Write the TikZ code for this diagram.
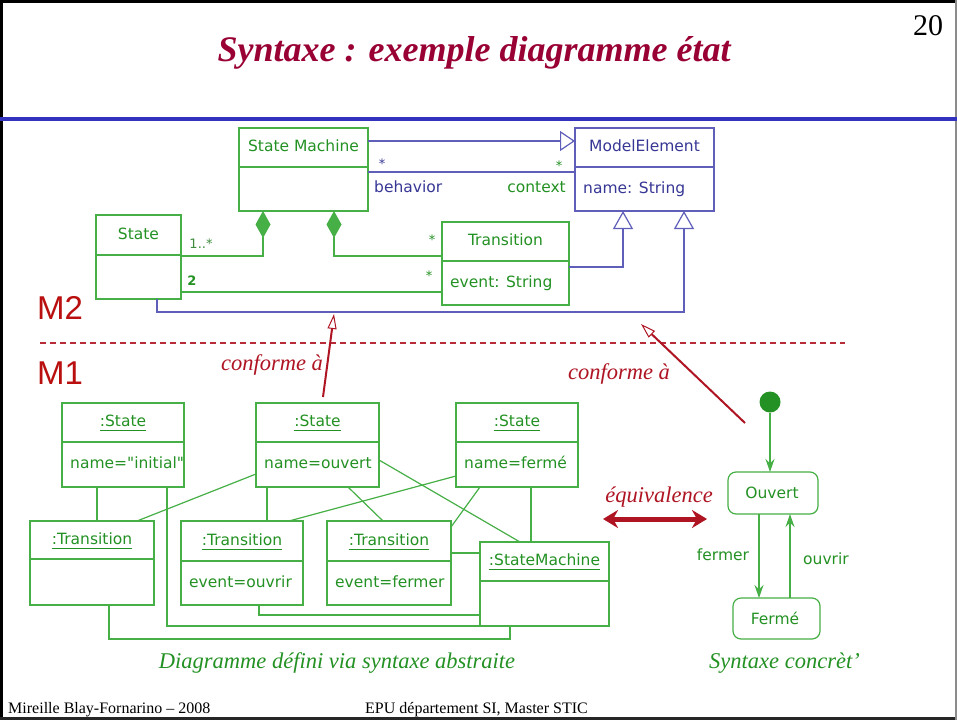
\documentclass[tikz,border=0pt]{standalone}
\usepackage{fontspec}
\setmainfont{Liberation Serif}
\newfontfamily\umlf{DejaVu Sans}
\newfontfamily\msans{Liberation Sans}
\usetikzlibrary{arrows.meta}
\definecolor{ugreen}{RGB}{70,175,70}
\definecolor{ugreentxt}{RGB}{35,145,35}
\definecolor{ublue}{RGB}{95,95,185}
\definecolor{ubluetxt}{RGB}{55,55,150}
\definecolor{mred}{RGB}{185,15,15}
\definecolor{cred}{RGB}{175,20,35}
\definecolor{titlec}{RGB}{153,0,51}
\definecolor{sepblue}{RGB}{50,50,190}
\newcommand\ulx[1]{\setbox0\hbox{#1}\rlap{\rule[-4.5pt]{\wd0}{1.1pt}}\box0}
\tikzset{
  umltext/.style={font=\umlf\fontsize{15.5}{18}\selectfont, inner sep=0pt, text height=11.5pt, text depth=3pt},
  smalltext/.style={font=\umlf\fontsize{13}{15}\selectfont, inner sep=0pt},
  gl/.style={draw=ugreen, line width=1.2pt},
  bl/.style={draw=ublue, line width=1.2pt},
  redit/.style={font=\itshape\fontsize{22.5}{26}\selectfont, text=cred, inner sep=0pt},
  greenit/.style={font=\itshape\fontsize{22.5}{26}\selectfont, text=ugreentxt, inner sep=0pt},
  mlabel/.style={font=\msans\fontsize{33}{36}\selectfont, text=mred, inner sep=0pt, anchor=north west},
  conf/.style={draw=cred, line width=2pt, -{Triangle[open, length=15pt, width=9pt, line width=1pt]}},
  stbox/.style={draw=ugreen, line width=1.2pt, rounded corners=8pt, inner sep=0pt, outer sep=0pt, anchor=north west},
  garrow/.style={gl, -{Stealth[length=13pt, width=9pt]}}
}
% name, x1, y1, x2, ydiv, y2, colour, header, body
\newcommand\umlbox[9]{%
  \node[draw=#7, line width=1.2pt, inner sep=0pt, outer sep=0pt, anchor=north west,
    minimum width={(#4-#2)*1pt}, minimum height={(#6-#3)*1pt}] (#1) at (#2,#3) {};
  \draw[draw=#7, line width=1.2pt] (#2,#5) -- (#4,#5);
  \node[umltext, text=#7txt] (#1-h) at ({(#2+#4)/2},{(#3+#5)/2}) {#8};
  \node[umltext, text=#7txt, anchor=west] (#1-b) at ({#2+8},{(#5+#6)/2}) {#9};
}
\begin{document}
\begin{tikzpicture}[x=1pt, y=-1pt]
\useasboundingbox (0,0) rectangle (957,720);
% frame
\fill[white] (0,0) rectangle (957,720);
\draw[line width=3pt] (0,1.5) -- (957,1.5);
\draw[line width=3pt] (1.5,0) -- (1.5,720);
\draw[line width=3pt, black!85] (0,718.5) -- (957,718.5);
\draw[line width=1.5pt, black!45] (956,0) -- (956,720);
% title
\node[font=\bfseries\itshape\fontsize{36}{40}\selectfont, text=titlec, inner sep=0pt] (title) at (474,53) {Syntaxe : exemple diagramme état};
\node[font=\fontsize{30}{32}\selectfont, inner sep=0pt] (pnum) at (928,26) {20};
\draw[sepblue, line width=4pt] (0,119) -- (957,119);

% ===== M2 =====
\umlbox{sm}{239}{128}{368}{167}{211}{ugreen}{State Machine}{}
\umlbox{st}{96}{215}{181}{255}{299}{ugreen}{State}{}
\umlbox{tr}{442}{222}{569}{261}{305}{ugreen}{Transition}{event: String}
\umlbox{me}{575}{128}{714}{167}{211}{ublue}{ModelElement}{name: String}

\draw[gl, {Diamond[length=27pt, width=15pt]}-] (sm.south -| 263,0) |- (st.east |- 0,256);
\draw[gl, {Diamond[length=27pt, width=15pt]}-] (sm.south -| 334,0) |- (tr.west |- 0,256);
\draw[gl] (st.east |- 0,292) -- (tr.west |- 0,292);

\draw[bl, -{Triangle[open, length=15pt, width=20pt]}] (sm.east |- 0,141) -- (me.west |- 0,141);
\draw[bl] (sm.east |- 0,172) -- (me.west |- 0,172);
\draw[bl, -{Triangle[open, length=18pt, width=20pt]}] (tr.east |- 0,267) -| (me.south -| 623,0);
\draw[bl, -{Triangle[open, length=18pt, width=20pt]}] (st.south -| 157,0) -- (157,312) -| (me.south -| 684,0);

\node[smalltext, text=ugreentxt!70!gray] (m1) at (201,244) {1..*};
\node[smalltext, text=ugreentxt, font=\umlf\bfseries\fontsize{13}{15}\selectfont] (m2) at (192,281) {2};
\node[smalltext, text=ubluetxt] (mb) at (382,164) {*};
\node[smalltext, text=ugreentxt] (mc) at (559,166) {*};
\node[smalltext, text=ugreentxt] (mt1) at (432,240) {*};
\node[smalltext, text=ugreentxt] (mt2) at (429,276) {*};
\node[umltext, text=ubluetxt, anchor=west] (beh) at (374,188) {behavior};
\node[umltext, text=ugreentxt, anchor=east] (ctx) at (566,188) {context};

% M labels and separator
\node[mlabel] (M2) at (37,296) {M2};
\node[mlabel] (M1) at (37,362) {M1};
\draw[draw=cred!90!white, line width=1.6pt, dash pattern=on 6pt off 4pt] (40,343) -- (845,343);

% ===== M1 =====
\umlbox{s1}{62}{403}{184}{442}{487}{ugreen}{\ulx{:State}}{name="initial"}
\umlbox{s2}{256}{403}{379}{442}{487}{ugreen}{\ulx{:State}}{name=ouvert}
\umlbox{s3}{456}{403}{578}{442}{487}{ugreen}{\ulx{:State}}{name=fermé}
\umlbox{t1}{30}{521}{154}{559}{605}{ugreen}{\ulx{:Transition}}{}
\umlbox{t2}{181}{521}{303}{561}{605}{ugreen}{\ulx{:Transition}}{event=ouvrir}
\umlbox{t3}{327}{521}{451}{561}{605}{ugreen}{\ulx{:Transition}}{event=fermer}
\umlbox{smi}{480}{542}{609}{581}{626}{ugreen}{\ulx{:StateMachine}}{}

\draw[gl] (s1.south -| 97,0) -- (t1.north -| 97,0);
\draw[gl] (s1.south -| 167,0) |- (smi.south west);
\draw[gl] (t1.south -| 109,0) -- (109,639) -| (smi.south -| 510,0);
\draw[gl] (t2.south -| 259,0) |- (smi.west |- 0,615);
\draw[gl] (t3.east |- 0,553) -- (smi.west |- 0,553);
\draw[gl] (s2.west |- 0,474) -- (t1.north -| 137,0);
\draw[gl] (s2.south -| 267,0) -- (t2.north -| 267,0);
\draw[gl] (s2.south -| 348,0) -- (t3.north -| 383,0);
\draw[gl] (s2.east |- 0,460) -- (smi.north -| 520,0);
\draw[gl] (s3.west |- 0,476) -- (t2.north -| 289,0);
\draw[gl] (s3.south -| 480,0) -- (t3.east |- 0,527);
\draw[gl] (s3.south -| 531,0) -- (smi.north -| 531,0);

% conforme a
\node[redit] (c1) at (272,365) {conforme à};
\coordinate (c1s) at (323,397);
\draw[conf] (c1s) -- (334,314);
\node[redit] (c2) at (619,374) {conforme à};
\coordinate (c2s) at (745,423);
\draw[conf] (c2s) -- (641,324);

% concrete syntax
\fill[ugreentxt] (770,402) circle (10.5pt);
\coordinate (init) at (770,412.5);
\node[stbox, minimum width=90pt, minimum height=42pt] (ouv) at (728,472) {};
\node[umltext, text=ugreentxt] (ouvt) at (772,494) {Ouvert};
\node[stbox, minimum width=87pt, minimum height=41pt] (fer) at (733,598) {};
\node[umltext, text=ugreentxt] (fert) at (775,620) {Fermé};
\draw[garrow] (init) -- (ouv.north -| 770,0);
\draw[garrow] (ouv.south -| 759,0) -- (fer.north -| 759,0);
\draw[garrow] (fer.north -| 790,0) -- (ouv.south -| 790,0);
\node[umltext, text=ugreentxt] (lf) at (723,556) {fermer};
\node[umltext, text=ugreentxt] (lo) at (826,560) {ouvrir};

% equivalence
\node[redit] (eq) at (659,497) {équivalence};
\coordinate (eqa) at (603,519);
\coordinate (eqb) at (707,519);
\draw[draw=cred, line width=5pt, {Stealth[length=15pt, width=18pt]}-{Stealth[length=15pt, width=18pt]}] (eqa) -- (eqb);

% captions
\node[greenit] (cap1) at (337,663) {Diagramme défini via syntaxe abstraite};
\node[greenit, anchor=west] (cap2) at (709,663) {Syntaxe concrèt’};

% footer
\node[font=\fontsize{16}{18}\selectfont, inner sep=0pt, anchor=base west] (f1) at (8,713) {Mireille Blay-Fornarino – 2008};
\node[font=\fontsize{16}{18}\selectfont, inner sep=0pt, anchor=base west] (f2) at (365,713) {EPU département SI, Master STIC};
\end{tikzpicture}
\end{document}
